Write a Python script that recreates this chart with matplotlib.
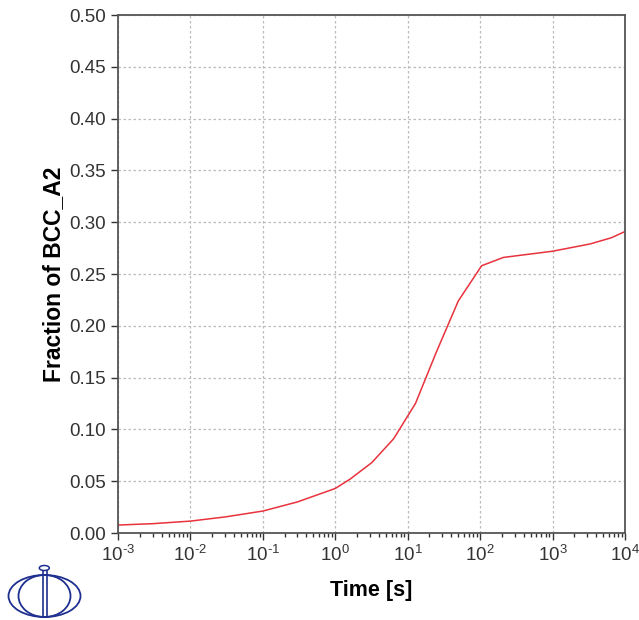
import matplotlib
matplotlib.use("Agg")
import matplotlib.pyplot as plt
from matplotlib.patches import Ellipse
from matplotlib.lines import Line2D
from matplotlib.ticker import LogLocator, NullFormatter

plt.rcParams['font.family'] = ['Liberation Sans', 'DejaVu Sans']
plt.rcParams['axes.unicode_minus'] = False
plt.rcParams['mathtext.default'] = 'regular'
plt.rcParams['mathtext.fontset'] = 'custom'
plt.rcParams['mathtext.rm'] = 'Liberation Sans'

# data
time_s = [1e-3, 3e-3, 1e-2, 3e-2, 1e-1, 0.3, 1.0, 1.6, 3.2, 6.4, 12.8, 25,
          50, 105, 210, 1000, 3300, 6500, 1e4]
frac_bcc = [0.0077, 0.0090, 0.0115, 0.0155, 0.0212, 0.030, 0.043, 0.052,
            0.068, 0.091, 0.125, 0.175, 0.224, 0.258, 0.266, 0.272, 0.279,
            0.285, 0.291]
y_ticks = [0.00, 0.05, 0.10, 0.15, 0.20, 0.25, 0.30, 0.35, 0.40, 0.45, 0.50]
x_exps = [-3, -2, -1, 0, 1, 2, 3, 4]

fig = plt.figure(figsize=(6.39, 6.20), dpi=100)
ax = fig.add_axes([0.1847, 0.1403, 0.7933, 0.8355])

ax.plot(time_s, frac_bcc, color='#e8323c', lw=1.1)

ax.set_xscale('log')
ax.set_xlim(1e-3, 1e4)
ax.set_ylim(0, 0.5)
ax.set_yticks(y_ticks)
ax.set_yticklabels([f"{v:.2f}" for v in y_ticks])
ax.set_xticks([10.0 ** e for e in x_exps])
ax.set_xticklabels([f"$10^{{\\text{{{e}}}}}$" for e in x_exps])
ax.xaxis.set_minor_locator(LogLocator(base=10, subs=range(2, 10), numticks=20))
ax.xaxis.set_minor_formatter(NullFormatter())

ax.grid(True, which='major', color='#bbbbbb', linestyle=(0, (2, 2)), lw=0.9)
ax.tick_params(which='major', direction='out', length=5, width=1, labelsize=13.5,
               color='#333333', labelcolor='#333333', top=False, right=False)
ax.tick_params(which='minor', direction='out', length=3, width=1, color='#333333')
for s in ax.spines.values():
    s.set_color('#555555')
    s.set_linewidth(1.3)

ax.set_xlabel('Time [s]', fontsize=15.5, fontweight='bold', labelpad=11)
ax.set_ylabel('Fraction of BCC_A2', fontsize=16.5, fontweight='bold', labelpad=3)

# logo in the lower left corner
logo_c = '#1f2f8f'
def px(x, y):
    return x / 639, 1 - y / 620
cx, cy = px(44.5, 596)
fig.patches.append(Ellipse((cx, cy), 72 / 639, 42 / 620, transform=fig.transFigure,
                           fill=False, ec=logo_c, lw=1.3))
fig.patches.append(Ellipse((cx, cy), 52 / 639, 42 / 620, transform=fig.transFigure,
                           fill=False, ec=logo_c, lw=1.3))
for xl in (42.7, 46.7):
    x0, _ = px(xl, 0)
    fig.lines.append(Line2D([x0, x0], [1 - 617 / 620, 1 - 571 / 620],
                            transform=fig.transFigure, color=logo_c, lw=1.2))
tx, ty = px(44.3, 568)
fig.patches.append(Ellipse((tx, ty), 10 / 639, 5 / 620, transform=fig.transFigure,
                           fill=False, ec=logo_c, lw=1.1))

fig.savefig('out.png', dpi=100)
